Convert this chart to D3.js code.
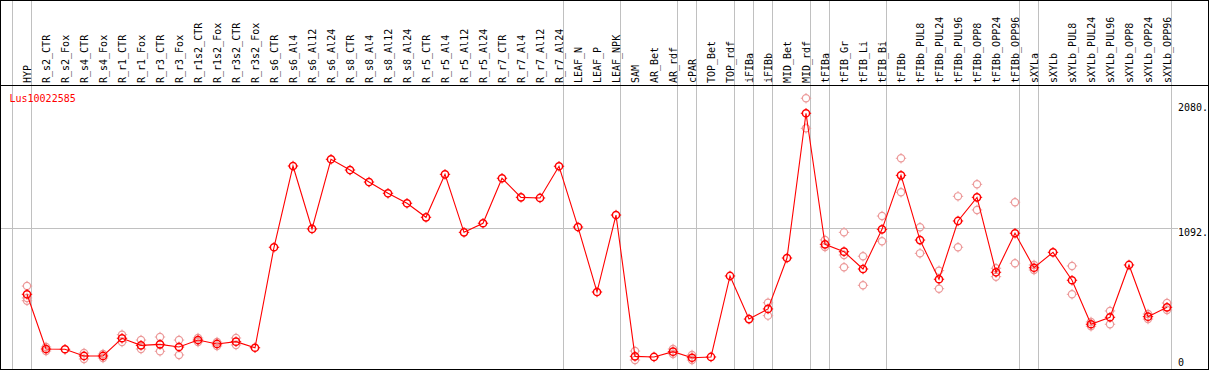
<!DOCTYPE html>
<html>
<head>
<meta charset="utf-8">
<script src="https://cdn.jsdelivr.net/npm/d3@7"></script>
<style>
  html, body { margin: 0; padding: 0; background: #fff; }
  svg { display: block; }
  text { font-family: "DejaVu Sans Mono", monospace; font-size: 10px; }
</style>
</head>
<body>
<div id="chart"></div>
<script>
const categories = ["HYP","R_s2_CTR","R_s2_Fox","R_s4_CTR","R_s4_Fox","R_r1_CTR","R_r1_Fox","R_r3_CTR","R_r3_Fox","R_r1s2_CTR","R_r1s2_Fox","R_r3s2_CTR","R_r3s2_Fox","R_s6_CTR","R_s6_Al4","R_s6_Al12","R_s6_Al24","R_s8_CTR","R_s8_Al4","R_s8_Al12","R_s8_Al24","R_r5_CTR","R_r5_Al4","R_r5_Al12","R_r5_Al24","R_r7_CTR","R_r7_Al4","R_r7_Al12","R_r7_Al24","LEAF_N","LEAF_P","LEAF_NPK","SAM","AR_Bet","AR_rdf","cPAR","TOP_Bet","TOP_rdf","iFIBa","iFIBb","MID_Bet","MID_rdf","tFIBa","tFIB_Gr","tFIB_Li","tFIB_Bi","tFIBb","tFIBb_PUL8","tFIBb_PUL24","tFIBb_PUL96","tFIBb_OPP8","tFIBb_OPP24","tFIBb_OPP96","sXYLa","sXYLb","sXYLb_PUL8","sXYLb_PUL24","sXYLb_PUL96","sXYLb_OPP8","sXYLb_OPP24","sXYLb_OPP96"];

const meanValues = [569,136,134,81,81,221,165,173,152,207,176,194,146,941,1584,1086,1637,1552,1457,1368,1289,1178,1518,1059,1131,1487,1336,1331,1582,1101,587,1196,78,73,115,67,73,714,373,453,856,2001,964,906,769,1083,1510,998,688,1149,1336,743,1052,779,901,680,332,387,801,392,466];

const repHigh = [634,152,null,104,96,249,207,231,207,223,191,223,null,null,null,null,null,null,null,null,null,null,null,null,null,null,null,null,null,null,null,null,120,null,136,89,null,null,null,502,null,2120,999,1059,870,1188,1645,1099,756,1344,1439,775,1297,801,null,793,350,437,null,413,500];

const repLow = [518,120,null,57,65,191,136,118,89,191,160,168,null,null,null,null,null,null,null,null,null,null,null,null,null,null,null,null,null,null,null,null,49,null,97,49,null,null,null,400,null,1882,943,783,640,988,1376,893,613,941,1236,708,814,761,null,569,316,332,null,373,445];

const repMid = [540,null,null,null,null,null,null,null,null,null,null,null,null,null,null,null,null,null,null,null,null,null,null,null,null,null,null,null,null,null,null,null,null,null,null,null,null,null,null,null,null,null,null,880,null,null,null,null,null,null,null,null,null,null,null,null,null,null,null,null,null];

const groupEnds = ["HYP","R_r7_Al24","LEAF_NPK","AR_rdf","cPAR","TOP_rdf","iFIBa","iFIBb","MID_rdf","tFIBa","tFIB_Bi","tFIBb_OPP96","sXYLa","sXYLb_OPP96"];

const yTicks = [0, 1092, 2080];
const gridValue = 1092;
const title = "Lus10022585";

const W = 1209, H = 370;
const svg = d3.select("#chart").append("svg").attr("width", W).attr("height", H);
svg.append("rect").attr("width", W).attr("height", H).attr("fill", "#fff");

const x = d3.scalePoint().domain(categories).range([27, 27 + 19 * (categories.length - 1)]);
const step = x.step();
const y = d3.scaleLinear().domain([0, 2080]).range([366.2, 103.3]);

const gray = "#c0c0c0";
// separators
const sepX = [x(categories[0]) - step + 3.5].concat(groupEnds.map(c => x(c) + 3.5));
svg.selectAll("line.sep").data(sepX).enter().append("line")
  .attr("x1", d => Math.round(d) + 0.5).attr("x2", d => Math.round(d) + 0.5)
  .attr("y1", 0).attr("y2", H).attr("stroke", gray).attr("stroke-width", 1);

// horizontal grid
svg.append("line").attr("x1", 0).attr("x2", 1178)
  .attr("y1", Math.round(y(gridValue)) + 0.5).attr("y2", Math.round(y(gridValue)) + 0.5)
  .attr("stroke", gray).attr("stroke-width", 1);

// borders
svg.append("line").attr("x1", 0).attr("x2", W).attr("y1", 0.5).attr("y2", 0.5).attr("stroke", "#000");
svg.append("line").attr("x1", 0).attr("x2", W).attr("y1", 85.5).attr("y2", 85.5).attr("stroke", "#000");
svg.append("line").attr("x1", 0).attr("x2", W).attr("y1", 369.5).attr("y2", 369.5).attr("stroke", "#000");
svg.append("line").attr("x1", 0.5).attr("x2", 0.5).attr("y1", 0).attr("y2", H).attr("stroke", "#000");
svg.append("line").attr("x1", 1208.5).attr("x2", 1208.5).attr("y1", 0).attr("y2", H).attr("stroke", "#000");

// category labels
svg.selectAll("text.cat").data(categories).enter().append("text")
  .attr("transform", d => `translate(${x(d) + 3.5},83) rotate(-90)`)
  .attr("text-anchor", "start").attr("fill", "#000").text(d => d);

// right axis labels
svg.selectAll("text.ytick").data(yTicks).enter().append("text")
  .attr("x", 1178)
  .attr("y", d => d === 0 ? y(d) : y(d) + 7.8)
  .attr("fill", "#000").text(d => d === 0 ? "0" : d + ".");

// title
svg.append("text").attr("x", 9.5).attr("y", 101.5).attr("fill", "#ff0000").text(title);

function marker(g, cx, cy, color, sw) {
  g.append("circle").attr("cx", cx).attr("cy", cy).attr("r", 3.6)
    .attr("fill", "none").attr("stroke", color).attr("stroke-width", sw);
  const t = [[0, -1], [0, 1], [-1, 0], [1, 0]];
  t.forEach(([dx, dy]) => {
    g.append("line")
      .attr("x1", cx + dx * 3.6).attr("y1", cy + dy * 3.6)
      .attr("x2", cx + dx * 5.2).attr("y2", cy + dy * 5.2)
      .attr("stroke", color).attr("stroke-width", 1);
  });
}

// replicates
const repG = svg.append("g");
[repHigh, repMid, repLow].forEach(arr => {
  arr.forEach((v, i) => {
    if (v !== null) marker(repG, x(categories[i]), y(v), "#ec9a9a", 1.2);
  });
});

// mean line
const line = d3.line().x((d, i) => x(categories[i])).y(d => y(d));
svg.append("path").datum(meanValues).attr("d", line)
  .attr("fill", "none").attr("stroke", "#ff0000").attr("stroke-width", 1.1);

const mG = svg.append("g");
meanValues.forEach((v, i) => marker(mG, x(categories[i]), y(v), "#ff0000", 1.5));
</script>
</body>
</html>
